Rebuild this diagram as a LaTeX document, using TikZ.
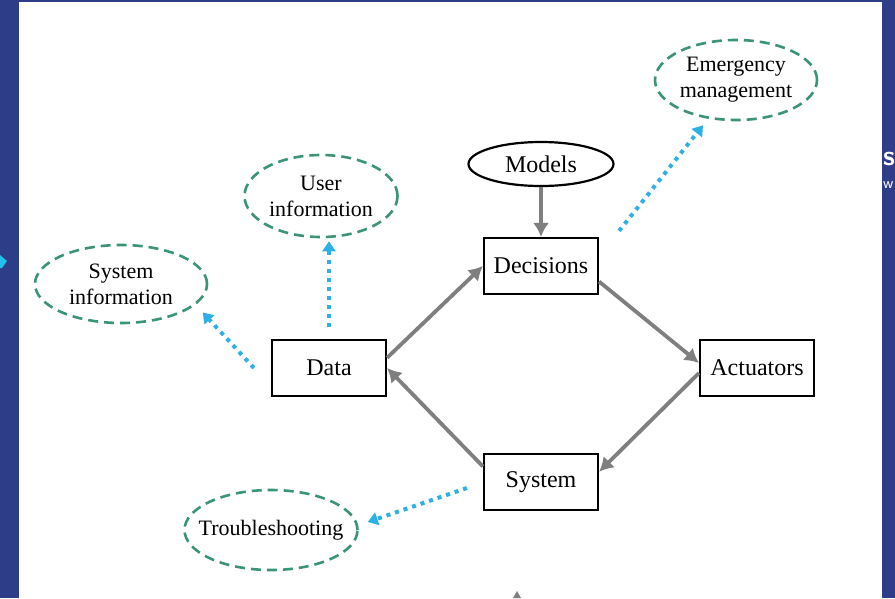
\documentclass[tikz,border=0pt]{standalone}
\usepackage{fontspec}
\setmainfont{Liberation Serif}
\usetikzlibrary{arrows.meta,shapes.geometric}
\definecolor{slideblue}{HTML}{2E3D87}
\definecolor{dashgreen}{HTML}{3A9478}
\definecolor{dotblue}{HTML}{2DB0E6}
\definecolor{linkgray}{HTML}{7F7F7F}
\tikzset{
  block/.style={draw=black, line width=2.2pt, fill=white, minimum width=114pt, minimum height=56pt, font=\fontsize{24}{26}\selectfont},
  bubble/.style={ellipse, draw=dashgreen, line width=2.6pt, dash pattern=on 10pt off 6pt, inner sep=0pt, align=center, font=\fontsize{22}{26}\selectfont},
  flow/.style={draw=linkgray, line width=3.8pt, -{Latex[length=14pt,width=16pt]}},
  hint/.style={draw=dotblue, line width=4pt, dash pattern=on 4pt off 5pt, -{Triangle[length=10pt,width=13pt]}}
}

\begin{document}
\begin{tikzpicture}[x=1pt,y=-1pt]
    % slide frame
    \fill[slideblue] (0,0) rectangle (895,598);
    \fill[white] (19,2) rectangle (882,598);
    \useasboundingbox (0,0) rectangle (895,598);
    \fill[dotblue!80!cyan] (0,255) -- (7,261) -- (2,268) -- (0,268) -- cycle;
    \node[text=white, font=\sffamily\bfseries\fontsize{28}{28}\selectfont, anchor=west, inner sep=0pt] (slideS) at (883,159) {s};
    \node[text=white, font=\sffamily\fontsize{16}{16}\selectfont, anchor=west, inner sep=0pt] (slideW) at (883,185) {w};
    \fill[linkgray] (513,598) -- (517,591) -- (521,598) -- cycle;

    % main loop
    \node[ellipse, draw=black, line width=2.2pt, minimum width=145pt, minimum height=44pt, inner sep=0pt, font=\fontsize{24}{26}\selectfont] (Models) at (541,164) {Models};
    \node[block] (Decisions) at (541,266) {Decisions};
    \node[block] (Data) at (329,368) {Data};
    \node[block] (Actuators) at (757,368) {Actuators};
    \node[block] (System) at (541,482) {System};

    % outputs
    \node[bubble, minimum width=172pt, minimum height=78pt] (SysInfo) at (121,284) {System\\information};
    \node[bubble, minimum width=153pt, minimum height=82pt] (UserInfo) at (321,196) {User\\information};
    \node[bubble, minimum width=162pt, minimum height=80pt] (Emergency) at (736,80) {Emergency\\management};
    \node[bubble, inner xsep=-13pt, minimum width=173pt, minimum height=80pt] (Trouble) at (271,530) {Troubleshooting};

    \draw[flow] (Models) -- (Decisions);
    \draw[flow] (Data.10) -- (Decisions.west);
    \draw[flow] (Decisions.-15) -- (Actuators.175);
    \draw[flow] (Actuators.185) -- (System.10);
    \draw[flow] (System.165) -- (Data.east);

    \draw[hint] ([xshift=-17pt]Data.west) -- ([xshift=20pt]SysInfo.south east);
    \draw[hint] ([yshift=12pt]Data.north) -- ([yshift=-3pt]Data.north |- UserInfo.south);
    \draw[hint] ([xshift=20pt,yshift=6pt]Decisions.north east) -- ([xshift=-33pt,yshift=-4pt]Emergency.south);
    \draw[hint] ([xshift=-16pt,yshift=-6pt]System.west) -- ([xshift=9pt,yshift=8pt]Trouble.east);
\end{tikzpicture}
\end{document}
